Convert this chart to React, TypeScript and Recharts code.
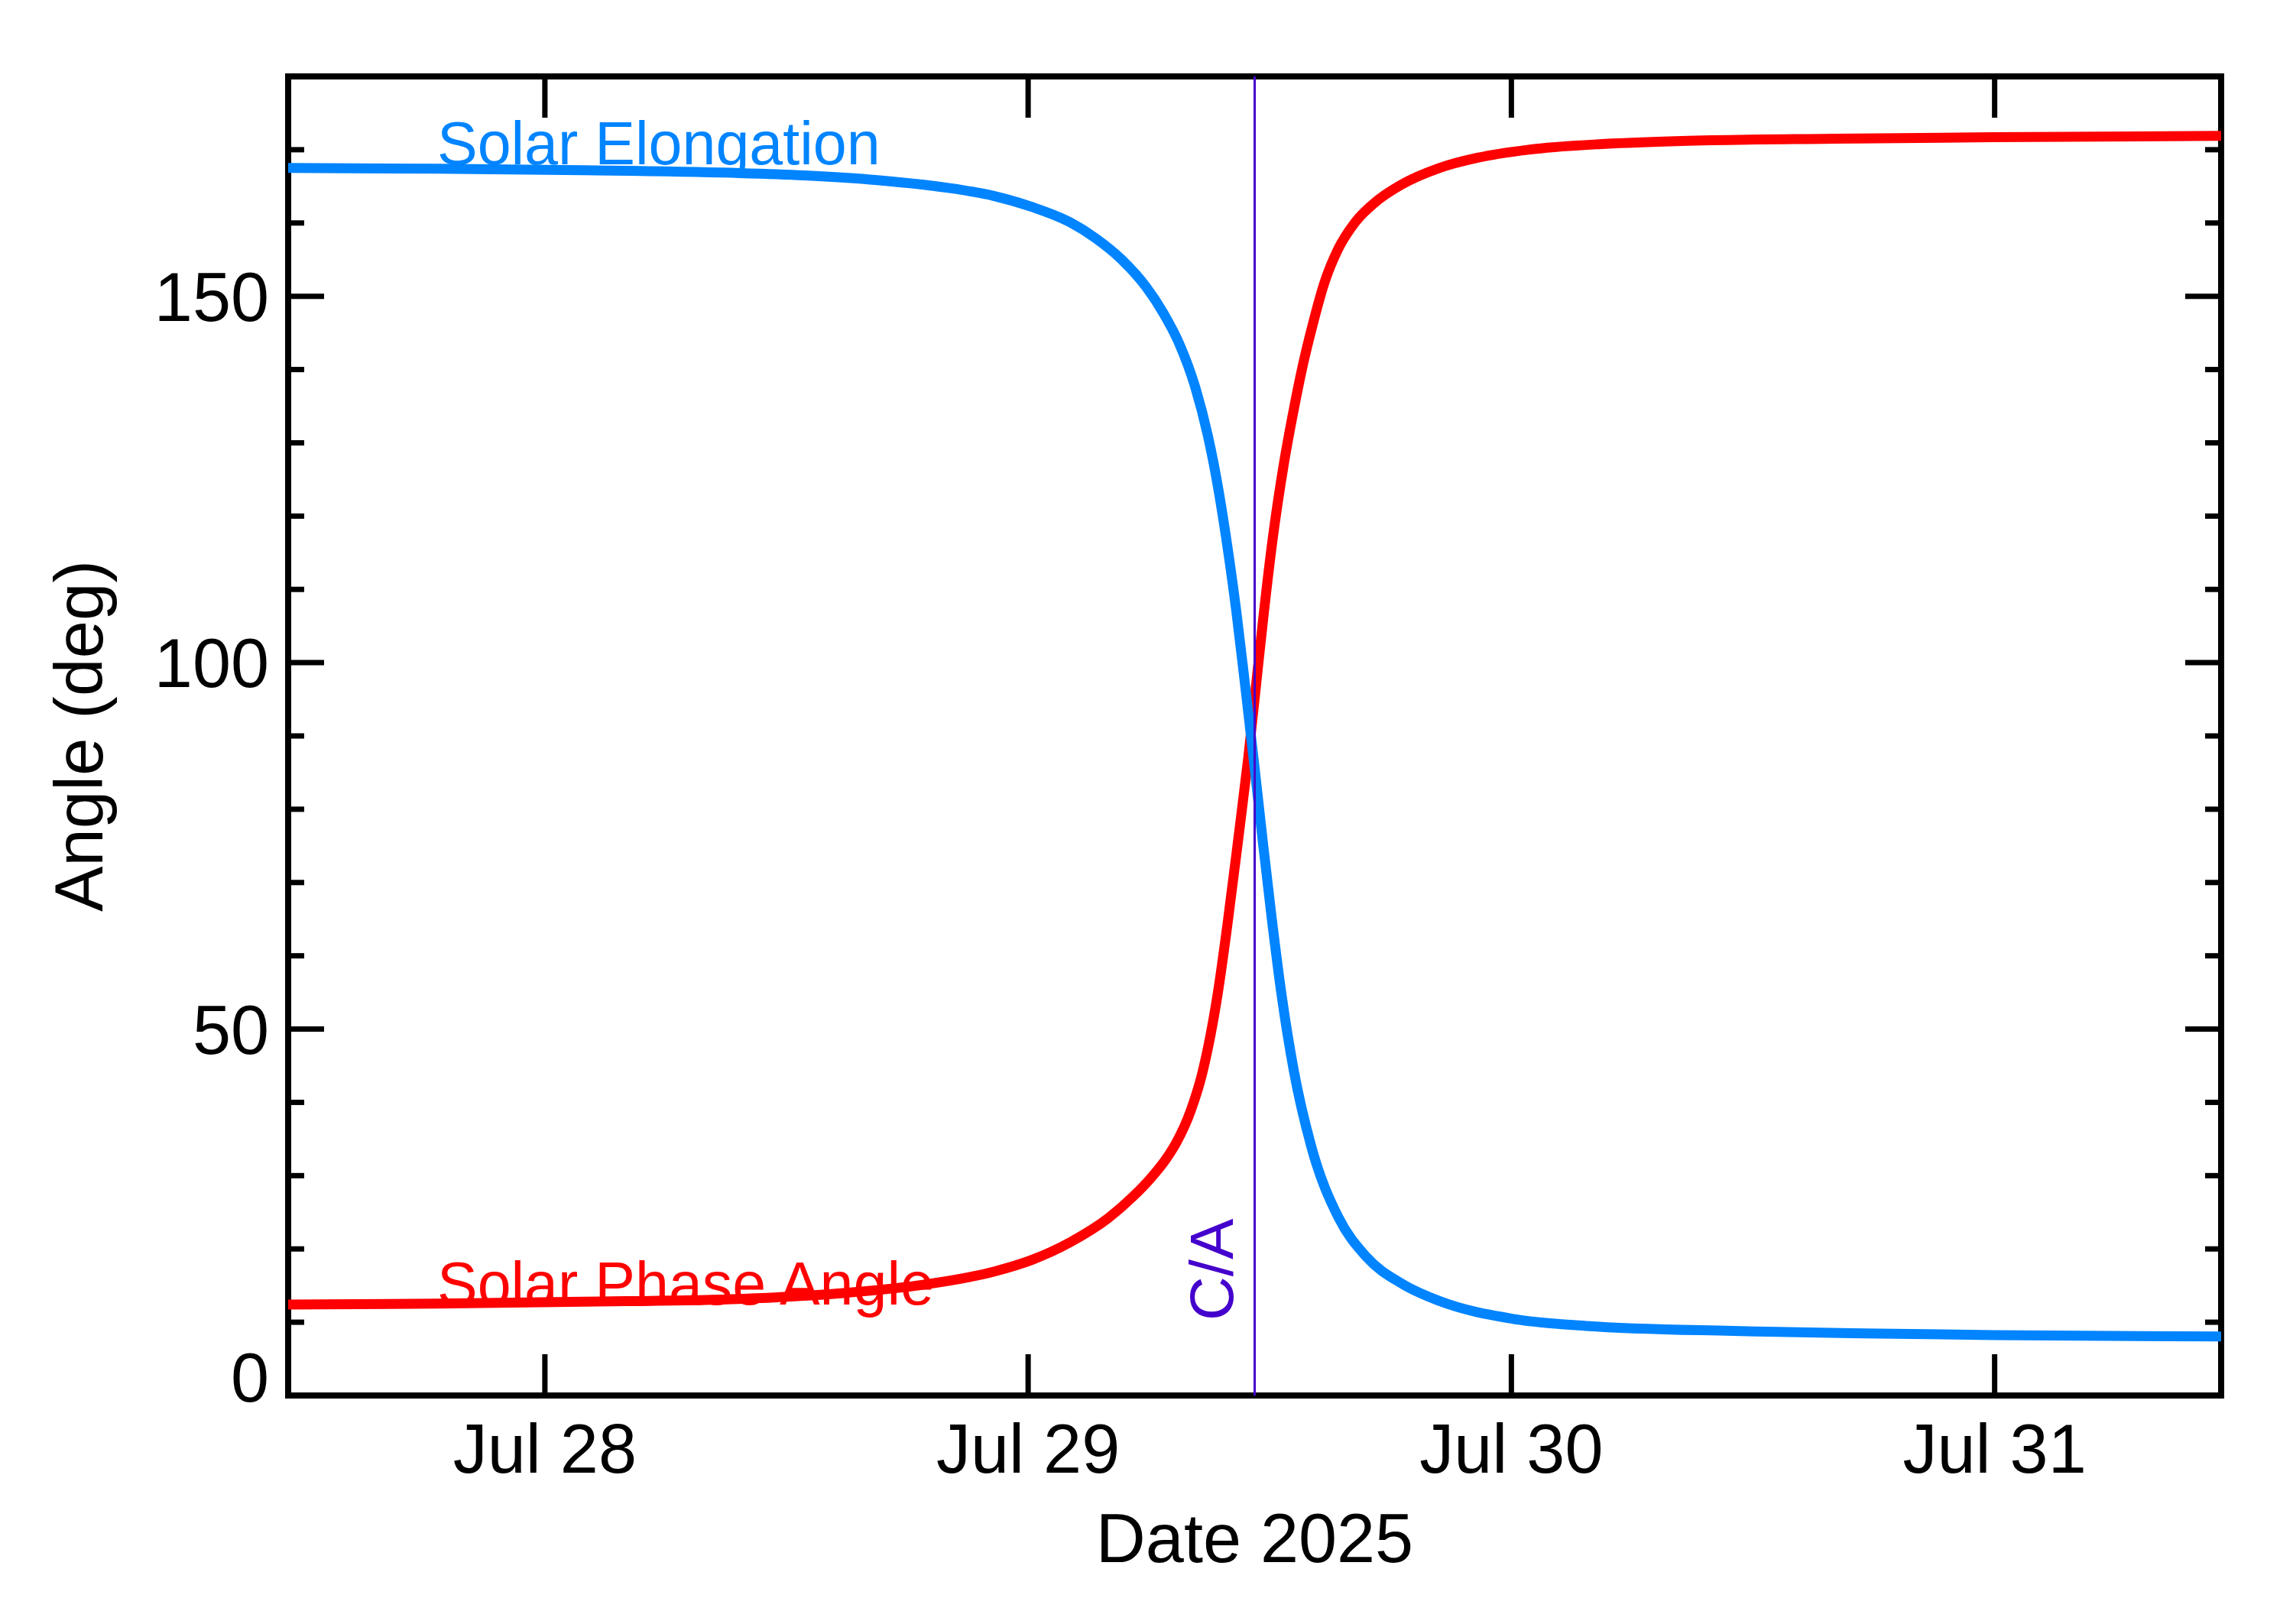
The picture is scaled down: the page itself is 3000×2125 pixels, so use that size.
import React from 'react';
import { LineChart, Line, XAxis, YAxis, ReferenceLine, ReferenceArea, ReferenceDot, Label } from 'recharts';

// Time axis: hours since 2025-07-27 00:00
const X_DOMAIN = [11.25, 107.25];
const X_TICKS = [24, 48, 72, 96];
const X_TICK_LABELS = ['Jul 28', 'Jul 29', 'Jul 30', 'Jul 31'];
const Y_DOMAIN = [0, 180];
const Y_TICKS = [0, 10, 20, 30, 40, 50, 60, 70, 80, 90, 100, 110, 120, 130, 140, 150, 160, 170];
const Y_LABELED = [0, 50, 100, 150];
const CA_TIME = 59.25;

// Solar elongation (deg)
const ELONG_T = [11.25, 18.73, 25.98, 33.27, 36.87, 40.52, 44.39, 46.29, 48.18, 50.08, 51.34, 52.63, 53.88, 54.75, 55.51, 56.27, 56.92, 57.22, 57.83, 58.34, 58.79, 59.23, 59.65, 60.09, 60.58, 61.19, 62.06, 63.41, 64.77, 66.6, 68.42, 71.99, 75.71, 82.99, 90.25, 95.98, 107.25];
const ELONG_V = [167.5, 167.4, 167.2, 166.85, 166.5, 165.85, 164.65, 163.7, 162.2, 160.1, 157.95, 155.05, 151.2, 147.55, 143.5, 137.85, 131.05, 127.1, 117.1, 107.0, 96.6, 86.1, 75.7, 65.3, 54.8, 44.4, 34.0, 24.3, 19.0, 15.2, 12.9, 10.5, 9.5, 8.8, 8.45, 8.25, 8.05];

// Solar phase angle (deg)
const PHASE_T = [11.25, 18.73, 25.98, 33.27, 38.7, 42.49, 46.29, 48.18, 50.08, 51.98, 53.23, 54.07, 54.83, 55.36, 56.08, 56.65, 57.42, 57.9, 58.43, 58.93, 59.33, 59.71, 60.16, 60.71, 61.21, 61.66, 62.12, 62.72, 63.37, 64.24, 65.27, 66.52, 68.42, 70.32, 72.86, 76.66, 80.45, 88.04, 95.9, 107.25];
const PHASE_V = [12.4, 12.55, 12.8, 13.15, 13.95, 15.0, 16.9, 18.5, 20.9, 24.2, 27.2, 29.6, 32.2, 34.5, 38.9, 44.0, 54.9, 64.3, 75.8, 87.0, 97.2, 106.9, 117.2, 127.3, 134.8, 140.8, 146.0, 151.9, 156.3, 160.1, 162.9, 165.2, 167.5, 168.9, 170.0, 170.8, 171.2, 171.5, 171.7, 171.9];

const ELONG_LABEL = { t: 18.65, v: 168.0, text: 'Solar Elongation' };
const PHASE_LABEL = { t: 18.65, v: 12.4, text: 'Solar Phase Angle' };

const elongData = ELONG_T.map((t, i) => ({ t, v: ELONG_V[i] }));
const phaseData = PHASE_T.map((t, i) => ({ t, v: PHASE_V[i] }));

const W = 3000;
const H = 2125;
const PLOT_LEFT = 377;
const PLOT_RIGHT = 2906;
const PLOT_TOP = 100;
const PLOT_BOTTOM = 1826;
const FONT = "'Liberation Sans', Arial, Helvetica, sans-serif";
const BLUE = '#0084FF';
const RED = '#FF0000';
const PURPLE = '#4400CC';

const XTick = (props: any) => {
  const { x, payload } = props;
  const idx = X_TICKS.indexOf(payload.value);
  return (
    <g>
      <line x1={x} x2={x} y1={PLOT_BOTTOM} y2={PLOT_BOTTOM - 54} stroke="#000" strokeWidth={7} />
      <line x1={x} x2={x} y1={PLOT_TOP} y2={PLOT_TOP + 54} stroke="#000" strokeWidth={7} />
      <text x={x} y={1927} textAnchor="middle" fontSize={90} fontFamily={FONT} fill="#000">
        {idx >= 0 ? X_TICK_LABELS[idx] : ''}
      </text>
    </g>
  );
};

const YTick = (props: any) => {
  const { y, payload } = props;
  const v = payload.value;
  const major = Y_LABELED.includes(v);
  const len = major ? 47 : 21;
  return (
    <g>
      <line x1={PLOT_LEFT} x2={PLOT_LEFT + len} y1={y} y2={y} stroke="#000" strokeWidth={7} />
      <line x1={PLOT_RIGHT} x2={PLOT_RIGHT - len} y1={y} y2={y} stroke="#000" strokeWidth={7} />
      {major ? (
        <text x={352} y={v === 0 ? y + 8 : y + 32} textAnchor="end" fontSize={90} fontFamily={FONT} fill="#000">
          {String(v)}
        </text>
      ) : null}
    </g>
  );
};

const textShape = (text: string, color: string) => (props: any) => (
  <text x={props.cx} y={props.cy} fontSize={79} fontFamily={FONT} fill={color}>
    {text}
  </text>
);

export default function App() {
  return (
    <div style={{ position: 'absolute', left: 0, top: 0, width: W, height: H, background: '#fff' }}>
      <LineChart
        width={W}
        height={H}
        margin={{ top: PLOT_TOP, right: W - PLOT_RIGHT, bottom: 149, left: 177 }}
      >
        <XAxis
          dataKey="t"
          type="number"
          domain={X_DOMAIN}
          ticks={X_TICKS}
          interval={0}
          allowDataOverflow
          height={H - PLOT_BOTTOM - 149}
          axisLine={false}
          tickLine={false}
          tick={<XTick />}
        >
          <Label
            content={() => (
              <text x={(PLOT_LEFT + PLOT_RIGHT) / 2} y={2044} textAnchor="middle" fontSize={90} fontFamily={FONT} fill="#000">
                Date 2025
              </text>
            )}
          />
        </XAxis>
        <YAxis
          type="number"
          domain={Y_DOMAIN}
          ticks={Y_TICKS}
          interval={0}
          allowDataOverflow
          width={200}
          axisLine={false}
          tickLine={false}
          tick={<YTick />}
        >
          <Label
            content={() => (
              <text
                transform={`translate(134, ${(PLOT_TOP + PLOT_BOTTOM) / 2}) rotate(-90)`}
                textAnchor="middle"
                fontSize={89}
                fontFamily={FONT}
                fill="#000"
              >
                Angle (deg)
              </text>
            )}
          />
        </YAxis>
        <Line
          data={phaseData}
          dataKey="v"
          type="monotone"
          stroke={RED}
          strokeWidth={13}
          strokeLinejoin="round"
          dot={false}
          activeDot={false}
          isAnimationActive={false}
        />
        <Line
          data={elongData}
          dataKey="v"
          type="monotone"
          stroke={BLUE}
          strokeWidth={13}
          strokeLinejoin="round"
          dot={false}
          activeDot={false}
          isAnimationActive={false}
        />
        <ReferenceLine
          x={CA_TIME}
          stroke={PURPLE}
          strokeWidth={3}
          label={{
            content: (p: any) => {
              const vb = p.viewBox || {};
              const x = vb.x;
              const bottom = vb.y + vb.height;
              return (
                <text
                  transform={`translate(${x - 29}, ${bottom - 98}) rotate(-90)`}
                  fontSize={80}
                  fontFamily={FONT}
                  fill={PURPLE}
                >
                  C/A
                </text>
              );
            },
          }}
        />
        <ReferenceDot x={ELONG_LABEL.t} y={ELONG_LABEL.v} r={1} shape={textShape(ELONG_LABEL.text, BLUE)} />
        <ReferenceDot x={PHASE_LABEL.t} y={PHASE_LABEL.v} r={1} shape={textShape(PHASE_LABEL.text, RED)} />
        <ReferenceArea
          x1={X_DOMAIN[0]}
          x2={X_DOMAIN[1]}
          y1={Y_DOMAIN[0]}
          y2={Y_DOMAIN[1]}
          fill="none"
          fillOpacity={0}
          stroke="#000"
          strokeWidth={8}
          ifOverflow="visible"
        />
      </LineChart>
    </div>
  );
}
